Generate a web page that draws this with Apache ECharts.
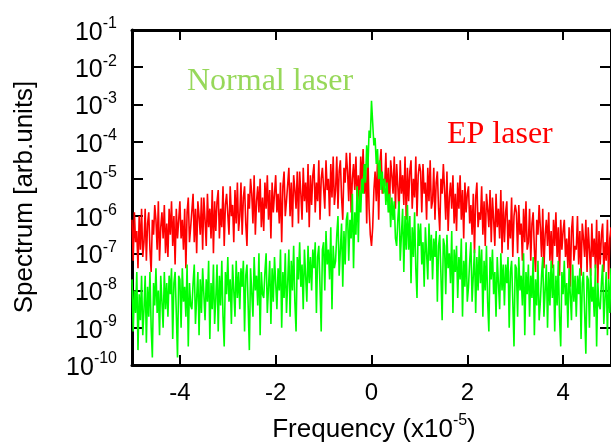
<!DOCTYPE html>
<html>
<head>
<meta charset="utf-8">
<script src="https://cdn.jsdelivr.net/npm/echarts@6/dist/echarts.min.js"></script>
<style>
html,body{margin:0;padding:0;background:#fff;}
#chart{width:611px;height:448px;}
</style>
</head>
<body>
<div id="chart"></div>
<script>
// Frequency grid (x10^-5), uniform sampling from -5 to 5
const freqStart = -5;
const freqStep = 0.025;

// log10 of spectrum, EP laser (red)
const epLaserLog = [
-6.1,-7.2,-5.9,-6.7,-6.4,-7.4,-6.0,-6.9,-5.8,-7.1,
-6.7,-5.8,-7.2,-6.2,-5.9,-6.9,-7.5,-6.1,-6.5,-5.7,
-6.1,-6.9,-5.6,-7.2,-6.3,-5.9,-6.6,-5.7,-7.0,-6.2,
-7.1,-5.8,-6.5,-5.6,-6.8,-6.0,-7.3,-5.8,-6.6,-6.1,
-5.6,-6.6,-6.1,-6.9,-5.8,-7.4,-5.9,-5.5,-6.7,-6.3,
-6.3,-5.4,-6.7,-5.8,-7.0,-5.6,-6.0,-6.5,-5.5,-6.9,
-5.5,-6.1,-6.8,-5.4,-6.3,-5.8,-6.6,-5.3,-7.0,-5.6,
-6.4,-5.6,-5.3,-6.6,-5.8,-6.3,-5.2,-6.8,-5.7,-5.4,
-5.4,-6.5,-5.2,-6.0,-5.7,-6.7,-5.3,-6.2,-5.1,-6.4,
-6.0,-5.1,-6.5,-5.5,-5.2,-6.2,-6.8,-5.4,-5.8,-5.0,
-5.4,-6.2,-4.9,-6.5,-5.6,-5.2,-5.9,-5.0,-6.3,-5.5,
-6.4,-5.1,-5.8,-4.9,-6.1,-5.3,-6.6,-5.1,-5.9,-5.4,
-4.9,-5.9,-5.4,-6.2,-5.1,-6.7,-5.2,-4.8,-6.0,-5.6,
-5.6,-4.7,-6.0,-5.1,-6.3,-4.9,-5.3,-5.8,-4.8,-6.2,
-4.8,-5.4,-6.1,-4.7,-5.6,-5.1,-5.9,-4.6,-6.3,-4.9,
-5.7,-4.9,-4.6,-5.9,-5.1,-5.6,-4.5,-6.1,-5.0,-4.7,
-4.7,-5.8,-4.5,-5.3,-5.0,-6.0,-4.6,-5.5,-4.4,-5.7,
-5.3,-4.4,-5.8,-4.8,-4.5,-5.5,-6.1,-4.7,-5.1,-4.3,
-4.8,-5.6,-4.3,-5.9,-5.0,-4.6,-5.3,-4.4,-5.7,-4.9,
-5.7,-4.4,-5.1,-4.2,-5.4,-4.6,-6.2,-4.4,-5.8,-6.5,
-6.8,
-6.3,-5.3,-4.8,-5.6,-4.5,-6.1,-4.6,-4.2,-5.4,-5.0,
-5.2,-4.3,-5.6,-4.7,-5.9,-4.5,-4.9,-5.4,-4.4,-5.8,
-4.6,-5.2,-5.9,-4.5,-5.4,-4.9,-5.7,-4.4,-6.1,-4.7,
-5.6,-4.8,-4.5,-5.8,-5.0,-5.5,-4.4,-6.0,-4.9,-4.6,
-4.8,-5.9,-4.6,-5.4,-5.1,-6.1,-4.7,-5.6,-4.5,-5.8,
-5.6,-4.7,-6.1,-5.1,-4.8,-5.8,-6.4,-5.0,-5.4,-4.6,
-5.3,-6.1,-4.8,-6.4,-5.5,-5.1,-5.8,-4.9,-6.2,-5.4,
-6.4,-5.1,-5.8,-4.9,-6.1,-5.3,-6.6,-5.1,-5.9,-5.4,
-5.2,-6.2,-5.7,-6.5,-5.4,-7.0,-5.5,-5.1,-6.3,-5.9,
-6.1,-5.2,-6.5,-5.6,-6.8,-5.4,-5.8,-6.3,-5.3,-6.7,
-5.5,-6.1,-6.8,-5.4,-6.3,-5.8,-6.6,-5.3,-7.0,-5.6,
-6.7,-5.9,-5.6,-6.9,-6.1,-6.6,-5.5,-7.1,-6.0,-5.7,
-5.9,-7.0,-5.7,-6.5,-6.2,-7.2,-5.8,-6.7,-5.6,-6.9,
-6.7,-5.8,-7.2,-6.2,-5.9,-6.9,-7.5,-6.1,-6.5,-5.7,
-6.3,-7.1,-5.8,-7.4,-6.5,-6.1,-6.8,-5.9,-7.2,-6.4,
-7.4,-6.1,-6.8,-5.9,-7.1,-6.3,-7.6,-6.1,-6.9,-6.4,
-6.1,-7.1,-6.6,-7.4,-6.3,-7.9,-6.4,-6.0,-7.2,-6.8,
-6.9,-6.0,-7.3,-6.4,-7.6,-6.2,-6.6,-7.1,-6.1,-7.5,
-6.3,-6.9,-7.6,-6.2,-7.1,-6.6,-7.4,-6.1,-7.8,-6.4,
-7.3,-6.5,-6.2,-7.5,-6.7,-7.2,-6.1,-7.7,-6.6,-6.3
];

// log10 of spectrum, Normal laser (green)
const normalLaserLog = [
-7.7,-9.1,-8.0,-8.6,-7.5,-9.6,-8.1,-8.8,-7.6,-9.2,
-8.5,-7.6,-9.4,-7.9,-8.7,-7.5,-9.0,-9.8,-7.8,-8.4,
-7.4,-8.6,-8.0,-9.2,-7.6,-8.3,-9.0,-7.5,-8.5,-7.8,
-8.7,-7.6,-8.1,-7.4,-9.3,-7.8,-7.5,-8.6,-9.8,-7.6,
-7.7,-9.0,-7.4,-8.3,-7.9,-8.7,-7.3,-9.5,-7.8,-8.4,
-8.5,-7.8,-7.3,-8.9,-8.2,-7.5,-9.2,-7.7,-8.6,-7.4,
-7.4,-8.8,-7.7,-8.3,-7.2,-9.3,-7.8,-8.5,-7.3,-8.9,
-8.2,-7.3,-9.1,-7.6,-8.4,-7.2,-8.7,-9.5,-7.5,-8.1,
-7.1,-8.3,-7.7,-8.9,-7.3,-8.0,-8.7,-7.2,-8.2,-7.5,
-8.5,-7.4,-7.9,-7.2,-9.1,-7.6,-7.3,-8.4,-9.6,-7.4,
-7.4,-8.7,-7.1,-8.0,-7.6,-8.4,-7.0,-9.2,-7.5,-8.1,
-8.2,-7.5,-7.0,-8.6,-7.9,-7.2,-8.9,-7.4,-8.3,-7.1,
-7.1,-8.5,-7.4,-8.0,-6.9,-9.0,-7.5,-8.2,-7.0,-8.6,
-7.8,-6.9,-8.7,-7.2,-8.0,-6.8,-8.3,-9.1,-7.1,-7.7,
-6.7,-7.9,-7.3,-8.5,-6.9,-7.6,-8.3,-6.8,-7.8,-7.1,
-8.0,-6.9,-7.4,-6.7,-8.6,-7.1,-6.8,-7.9,-9.1,-6.9,
-6.7,-8.0,-6.4,-7.3,-6.9,-7.7,-6.3,-8.5,-6.8,-7.4,
-7.2,-6.5,-6.0,-7.6,-6.9,-6.2,-7.9,-6.4,-7.3,-6.1,
-5.9,-7.2,-6.1,-6.6,-5.4,-7.4,-5.9,-6.5,-5.2,-6.7,
-5.3,-5.9,-5.0,-5.4,-4.6,-5.1,-4.1,-4.7,-3.7,-3.9,
-2.9,
-3.5,-4.1,-3.9,-4.6,-4.2,-5.0,-4.5,-5.3,-4.8,-5.4,
-5.0,-5.7,-5.1,-5.9,-5.4,-6.3,-5.5,-6.1,-5.6,-6.6,
-6.8,-6.1,-5.6,-7.2,-6.5,-5.8,-7.5,-6.0,-6.9,-5.7,
-6.9,-6.0,-7.8,-6.3,-7.1,-5.9,-7.4,-8.2,-6.2,-6.8,
-6.2,-7.3,-6.7,-7.9,-6.3,-7.0,-7.7,-6.2,-7.2,-6.5,
-7.7,-6.6,-7.1,-6.4,-8.3,-6.8,-6.5,-7.6,-8.8,-6.6,
-6.8,-8.1,-6.5,-7.4,-7.0,-7.8,-6.4,-8.6,-6.9,-7.5,
-6.8,-8.2,-7.1,-7.7,-6.6,-8.7,-7.2,-7.9,-6.7,-8.3,
-7.9,-7.2,-6.7,-8.3,-7.6,-6.9,-8.6,-7.1,-8.0,-6.8,
-7.8,-6.9,-8.7,-7.2,-8.0,-6.8,-8.3,-9.1,-7.1,-7.7,
-6.9,-8.1,-7.5,-8.7,-7.1,-7.8,-8.5,-7.0,-8.0,-7.3,
-8.4,-7.3,-7.8,-7.1,-9.0,-7.5,-7.2,-8.3,-9.5,-7.3,
-7.4,-8.7,-7.1,-8.0,-7.6,-8.4,-7.0,-9.2,-7.5,-8.1,
-7.3,-8.7,-7.6,-8.2,-7.1,-9.2,-7.7,-8.4,-7.2,-8.8,
-8.3,-7.6,-7.1,-8.7,-8.0,-7.3,-9.0,-7.5,-8.4,-7.2,
-8.2,-7.3,-9.1,-7.6,-8.4,-7.2,-8.7,-9.5,-7.5,-8.1,
-7.2,-8.4,-7.8,-9.0,-7.4,-8.1,-8.8,-7.3,-8.3,-7.6,
-8.7,-7.6,-8.1,-7.4,-9.3,-7.8,-7.5,-8.6,-9.7,-7.6,
-7.7,-9.0,-7.4,-8.3,-7.9,-8.7,-7.3,-9.5,-7.8,-8.4,
-8.5,-7.8,-7.3,-8.9,-8.2,-7.5,-9.2,-7.7,-8.6,-7.4
];

const xTickValues = [-4, -2, 0, 2, 4];
const seriesNames = ['EP laser', 'Normal laser'];

function toPairs(logs) {
  return logs.map((v, i) => [+(freqStart + i * freqStep).toFixed(4), Math.pow(10, v)]);
}

const chart = echarts.init(document.getElementById('chart'), null, {renderer: 'canvas'});
const axisFont = 'Liberation Sans, Arial, sans-serif';
const serifFont = 'Liberation Serif, Times New Roman, serif';

const option = {
  animation: false,
  backgroundColor: '#ffffff',
  grid: {left: 132, top: 30, width: 482, height: 335, containLabel: false},
  xAxis: [{
    type: 'value', min: -5, max: 5,
    axisLine: {show: true, onZero: false, lineStyle: {color: '#000', width: 3}},
    axisTick: {show: true, inside: true, length: 10, lineStyle: {color: '#000', width: 2}, customValues: xTickValues},
    axisLabel: {show: true, customValues: xTickValues, color: '#000', fontSize: 24, fontFamily: axisFont, margin: 16},
    splitLine: {show: false}
  }, {
    type: 'value', min: -5, max: 5, position: 'top',
    axisLine: {show: true, onZero: false, lineStyle: {color: '#000', width: 3}},
    axisTick: {show: true, inside: true, length: 10, lineStyle: {color: '#000', width: 2}, customValues: xTickValues},
    axisLabel: {show: false},
    splitLine: {show: false}
  }],
  yAxis: [{
    type: 'log', logBase: 10, min: 1e-10, max: 1e-1,
    axisLine: {show: true, onZero: false, lineStyle: {color: '#000', width: 3}},
    axisTick: {show: true, inside: true, length: 11, lineStyle: {color: '#000', width: 2}},
    axisLabel: {
      show: true, margin: 15, color: '#000', fontSize: 25, fontFamily: axisFont,
      formatter: function (v) {
        const e = Math.round(Math.log10(v));
        return '{a|10}{s|' + e + '}';
      },
      rich: {
        a: {fontSize: 25, fontFamily: axisFont, color: '#000', padding: [6, 0, 0, 0]},
        s: {fontSize: 16, fontFamily: axisFont, color: '#000', padding: [0, 0, 12, 0]}
      }
    },
    splitLine: {show: false},
    minorTick: {show: false}
  }, {
    type: 'log', logBase: 10, min: 1e-10, max: 1e-1, position: 'right',
    axisLine: {show: true, onZero: false, lineStyle: {color: '#000', width: 3}},
    axisTick: {show: true, inside: true, length: 11, lineStyle: {color: '#000', width: 2}},
    axisLabel: {show: false},
    splitLine: {show: false}
  }],
  series: [{
    name: seriesNames[0], type: 'line', showSymbol: false, symbol: 'none',
    data: toPairs(epLaserLog), xAxisIndex: 0, yAxisIndex: 0,
    lineStyle: {color: '#ff0000', width: 1.6}, itemStyle: {color: '#ff0000'},
    clip: true, z: 2
  }, {
    name: seriesNames[1], type: 'line', showSymbol: false, symbol: 'none',
    data: toPairs(normalLaserLog), xAxisIndex: 0, yAxisIndex: 0,
    lineStyle: {color: '#00ff00', width: 1.6}, itemStyle: {color: '#00ff00'},
    clip: true, z: 3
  }],
  graphic: [{
    type: 'text', left: 187, top: 66, z: 10,
    style: {text: 'Normal laser', font: '32px ' + serifFont, fill: '#97d85a'}
  }, {
    type: 'text', left: 447, top: 119, z: 10,
    style: {text: 'EP laser', font: '32px ' + serifFont, fill: '#ff0000'}
  }, {
    type: 'text', x: 25, y: 197, rotation: Math.PI / 2, z: 10,
    style: {text: 'Spectrum [arb.units]', font: '26px ' + axisFont, fill: '#000', align: 'center', verticalAlign: 'middle'}
  }, {
    type: 'text', x: 374, y: 430, z: 10,
    style: {
      text: '{a|Frequency (x10}{s|-5}{a|)}', align: 'center', verticalAlign: 'middle',
      rich: {
        a: {fontSize: 26, fontFamily: axisFont, fill: '#000'},
        s: {fontSize: 16, fontFamily: axisFont, fill: '#000', padding: [0, 0, 18, 0]}
      }
    }
  }]
};
chart.setOption(option);
</script>
</body>
</html>
